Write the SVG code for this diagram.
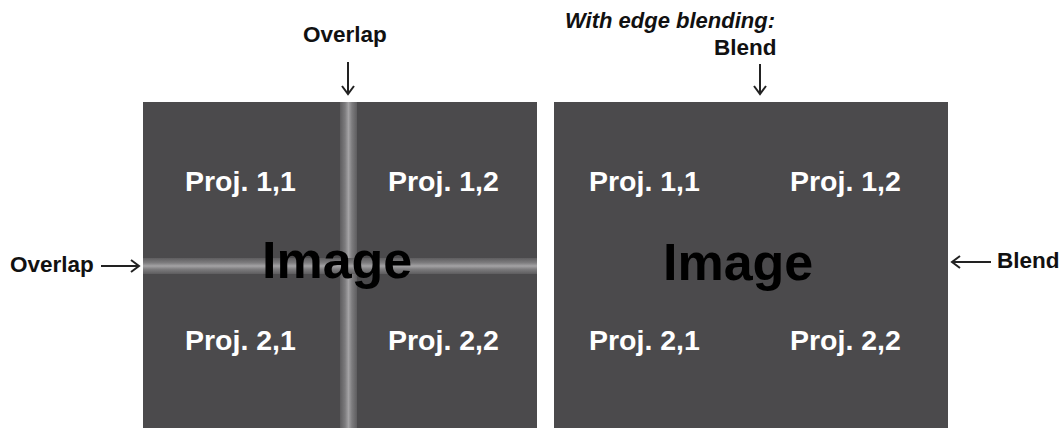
<svg xmlns="http://www.w3.org/2000/svg" width="1062" height="434" viewBox="0 0 1062 434">
<style>
.scr{fill:#4b4a4c}
.lbl{font-family:"Liberation Sans",Arial,sans-serif;font-weight:bold;fill:#111}
.proj{font-family:"Liberation Sans",Arial,sans-serif;font-weight:bold;fill:#fff;font-size:28.5px}
.img{font-family:"Liberation Sans",Arial,sans-serif;font-weight:bold;fill:#000;font-size:52px}
.arr{fill:none;stroke:#222;stroke-width:2}
</style>
<defs>
<linearGradient id="vb" x1="0" x2="1" y1="0" y2="0">
<stop offset="0" stop-color="#5e5d5f"/>
<stop offset="0.3" stop-color="#7d7c7e"/>
<stop offset="0.5" stop-color="#a4a3a5"/>
<stop offset="0.7" stop-color="#7d7c7e"/>
<stop offset="1" stop-color="#5e5d5f"/>
</linearGradient>
<linearGradient id="hb" x1="0" x2="0" y1="0" y2="1">
<stop offset="0" stop-color="#5e5d5f"/>
<stop offset="0.3" stop-color="#7d7c7e"/>
<stop offset="0.5" stop-color="#a4a3a5"/>
<stop offset="0.7" stop-color="#7d7c7e"/>
<stop offset="1" stop-color="#5e5d5f"/>
</linearGradient>
</defs>
<rect width="1062" height="434" fill="#fff"/>
<g id="left-screen">
<rect class="scr" x="143" y="102" width="394" height="326"/>
<rect x="340" y="102" width="17" height="326" fill="url(#vb)"/>
<rect x="143" y="258" width="394" height="16" fill="url(#hb)"/>
<text class="proj" x="185" y="191">Proj. 1,1</text>
<text class="proj" x="388" y="191">Proj. 1,2</text>
<text class="proj" x="185" y="350">Proj. 2,1</text>
<text class="proj" x="388" y="350">Proj. 2,2</text>
<text class="img" x="262" y="278">Image</text>
</g>
<g id="right-screen">
<rect class="scr" x="554" y="102" width="394" height="326"/>
<text class="proj" x="589" y="191">Proj. 1,1</text>
<text class="proj" x="790" y="191">Proj. 1,2</text>
<text class="proj" x="589" y="350">Proj. 2,1</text>
<text class="proj" x="790" y="350">Proj. 2,2</text>
<text class="img" x="663" y="280">Image</text>
</g>
<g id="labels">
<text class="lbl" x="303" y="42" font-size="22.5">Overlap</text>
<text class="lbl" x="10" y="272" font-size="22.5">Overlap</text>
<text class="lbl" x="565" y="28" font-size="22" font-style="italic">With edge blending:</text>
<text class="lbl" x="714" y="55" font-size="22.5">Blend</text>
<text class="lbl" x="997" y="268" font-size="22.5">Blend</text>
</g>
<g id="connectors">
<path class="arr" d="M348 62 V94 M342 86 L348 94 L354 86"/>
<path class="arr" d="M101 266 H139 M131 260 L139 266 L131 272"/>
<path class="arr" d="M760 64 V94 M754 86 L760 94 L766 86"/>
<path class="arr" d="M991 262 H952 M960 256 L952 262 L960 268"/>
</g>
</svg>
